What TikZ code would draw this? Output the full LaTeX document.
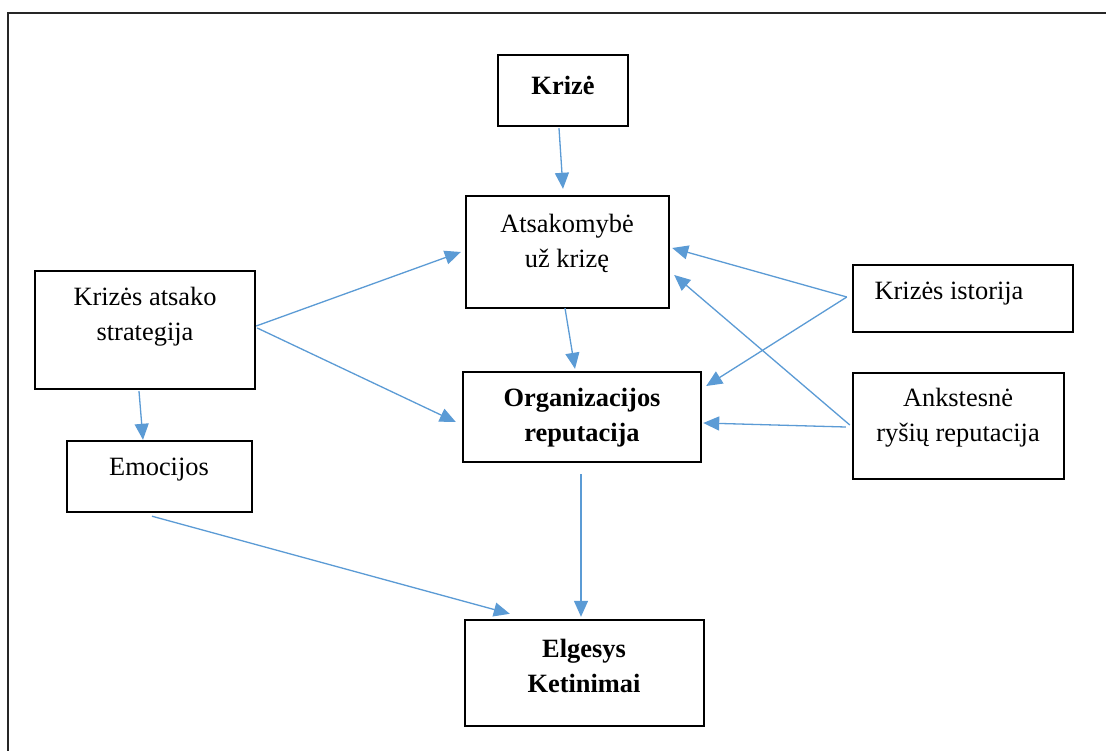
\documentclass[tikz,border=0pt]{standalone}
\usepackage{fontspec}
\setmainfont{Liberation Serif}
\usetikzlibrary{arrows.meta,calc}
\definecolor{arrblue}{HTML}{5B9BD5}
\begin{document}
\begin{tikzpicture}[x=1pt,y=-1pt,
  box/.style={draw=black,line width=2.4pt,rectangle,inner sep=0pt},
  txt/.style={align=center,inner sep=0pt,font=\fontsize{26.4}{35}\selectfont},
  btxt/.style={txt,font=\fontsize{26.4}{35}\selectfont\bfseries},
  arr/.style={draw=arrblue,line width=1.3pt,-{Triangle[length=16pt,width=14pt]}}]
\useasboundingbox (0,0) rectangle (1106,751);
\fill[white] (0,0) rectangle (1106,751);
% frame
\draw[line width=1.6pt,black!85] (8,751) -- (8,13) -- (1106,13);
% boxes
\node[box,minimum width=130pt,minimum height=71pt] (krize) at (563,90.5) {};
\node[box,minimum width=203pt,minimum height=112pt] (atsak) at (567.5,252) {};
\node[box,minimum width=220pt,minimum height=118pt] (strat) at (145,330) {};
\node[box,minimum width=185pt,minimum height=71pt] (emoc) at (159.5,476.5) {};
\node[box,minimum width=238pt,minimum height=90pt] (org) at (582,417) {};
\node[box,minimum width=220pt,minimum height=67pt] (ist) at (963,298.5) {};
\node[box,minimum width=211pt,minimum height=106pt] (ank) at (958.5,426) {};
\node[box,minimum width=239pt,minimum height=106pt] (elg) at (584.5,673) {};
% texts
\node[btxt] (tkrize) at (563,85) {Krizė};
\node[txt] (tatsak) at (567,243) {Atsakomybė\\už krizę};
\node[txt] (tstrat) at (145,317) {Krizės atsako\\strategija};
\node[txt] (temoc) at (159,470) {Emocijos};
\node[btxt] (torg) at (582,418) {Organizacijos\\reputacija};
\node[txt] (tist) at (949,294) {Krizės istorija};
\node[txt] (tank) at (958,418) {Ankstesnė\\ryšių reputacija};
\node[btxt] (telg) at (584,666) {Elgesys\\Ketinimai};
% connectors
\draw[arr] ([shift={(-4,1)}]krize.south) -- ([shift={(-4.5,-6)}]atsak.north);
\draw[arr] ([shift={(0,-4)}]strat.east) -- ([shift={(-4,0)}]atsak.west);
\draw[arr] ([shift={(1,-2)}]strat.east) -- ([shift={(-6,5)}]org.west);
\draw[arr] ([shift={(-6,1)}]strat.south) -- ([shift={(-16.5,0)}]emoc.north);
\draw[arr] ([shift={(-2.5,-1)}]atsak.south) -- ([shift={(-7,-2)}]org.north);
\draw[arr] ([shift={(-5,-1.5)}]ist.west) -- ([shift={(2,-4)}]atsak.east);
\draw[arr] ([shift={(-5,-1.5)}]ist.west) -- ([shift={(4,-31)}]org.east);
\draw[arr] ([shift={(-2,-1)}]ank.west) -- ([shift={(4,23)}]atsak.east);
\draw[arr] ([shift={(-6,1)}]ank.west) -- ([shift={(1,6)}]org.east);
\draw[arr] ([shift={(-7.5,3)}]emoc.south) -- ([shift={(46,-5)}]elg.north west);
\draw[arr] ([shift={(-1,11)}]org.south) -- ([shift={(-3.5,-2)}]elg.north);
\end{tikzpicture}
\end{document}
